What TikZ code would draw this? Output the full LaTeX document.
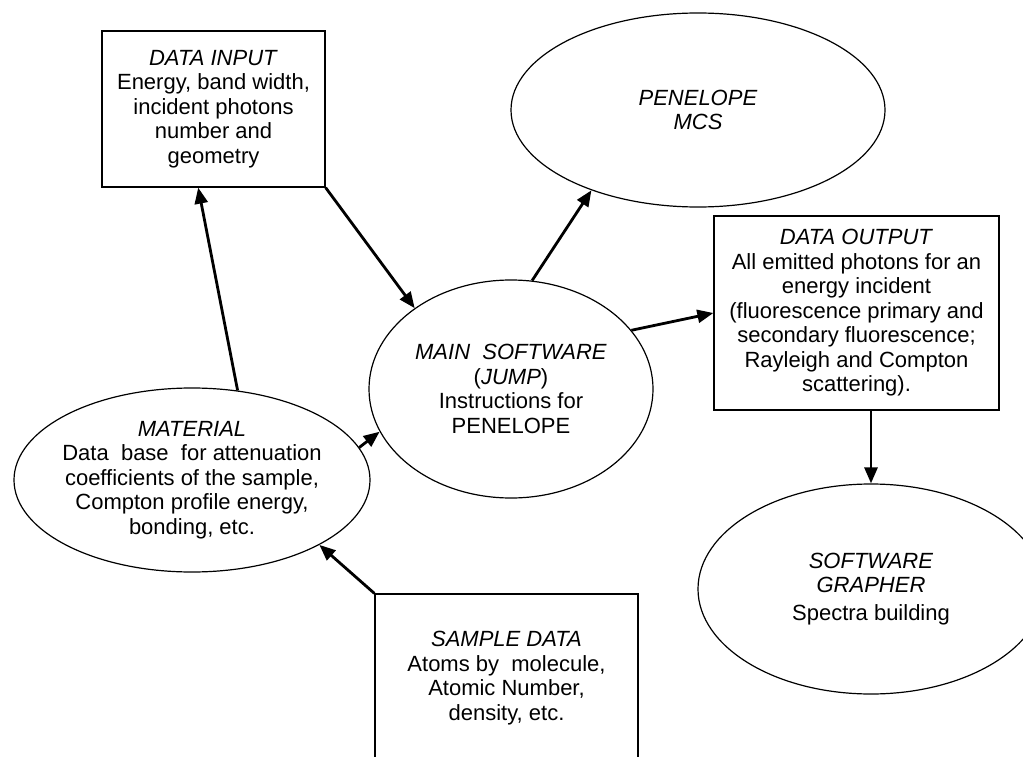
\documentclass[tikz,border=0pt]{standalone}
\usepackage{fontspec}
\setmainfont{Liberation Sans}
\usetikzlibrary{shapes.geometric,arrows.meta}

\begin{document}
\begin{tikzpicture}[x=1pt,y=-1pt,>={Triangle[length=16pt,width=13pt]}]
                \tikzstyle{every node}=[font=\fontsize{22}{24.5}\selectfont,align=center,inner sep=0pt]
                \tikzstyle{box}=[draw,rectangle,line width=1.3pt]
                \tikzstyle{oval}=[draw,ellipse,line width=1.2pt,inner xsep=-30pt]
                \tikzstyle{flow}=[->,line width=2.8pt]
                \useasboundingbox (0,0) rectangle (1023,757);
                \node [box,minimum width=223pt,minimum height=156pt] (din) at (213.5,109) {\textit{DATA INPUT}\\Energy, band width,\\incident photons\\number and\\geometry};
                \node [oval,minimum width=374pt,minimum height=194pt] (pen) at (698,110) {\textit{PENELOPE}\\\textit{MCS}};
                \node [oval,minimum width=284pt,minimum height=218pt] (main) at (511,389) {\textit{MAIN\ \ SOFTWARE}\\(\textit{JUMP})\\Instructions for\\PENELOPE};
                \node [box,minimum width=285pt,minimum height=194pt] (dout) at (856.5,313) {\textit{DATA OUTPUT}\\All emitted photons for an\\energy incident\\(fluorescence primary and\\secondary fluorescence;\\Rayleigh and Compton\\scattering).};
                \node [oval,minimum width=356pt,minimum height=184pt] (mat) at (192,480) {\textit{MATERIAL}\\Data\ \ base\ \ for attenuation\\coefficients of the sample,\\Compton profile energy,\\bonding, etc.};
                \node [box,minimum width=263pt,minimum height=168pt] (samp) at (506.5,678) {\textit{SAMPLE DATA}\\Atoms by\ \ molecule,\\Atomic Number,\\density, etc.};
                \node [oval,minimum width=346pt,minimum height=210pt] (graph) at (871,589) {\textit{SOFTWARE}\\\textit{GRAPHER}\\[3pt]Spectra building};
                % connectors
                \draw [flow] (din.south east) -- (main.140);
                \draw [flow] (mat.63) -- (din.259);
                \draw [flow] (main.79) -- (pen.217);
                \draw [flow] (main.26) -- (dout.west);
                \draw [flow] (mat.11) -- (main.198);
                \draw [flow] (samp.north west) -- (mat.333);
                \draw [flow] (dout.south -| graph.north) -- (graph.north);
            \end{tikzpicture}
\end{document}
